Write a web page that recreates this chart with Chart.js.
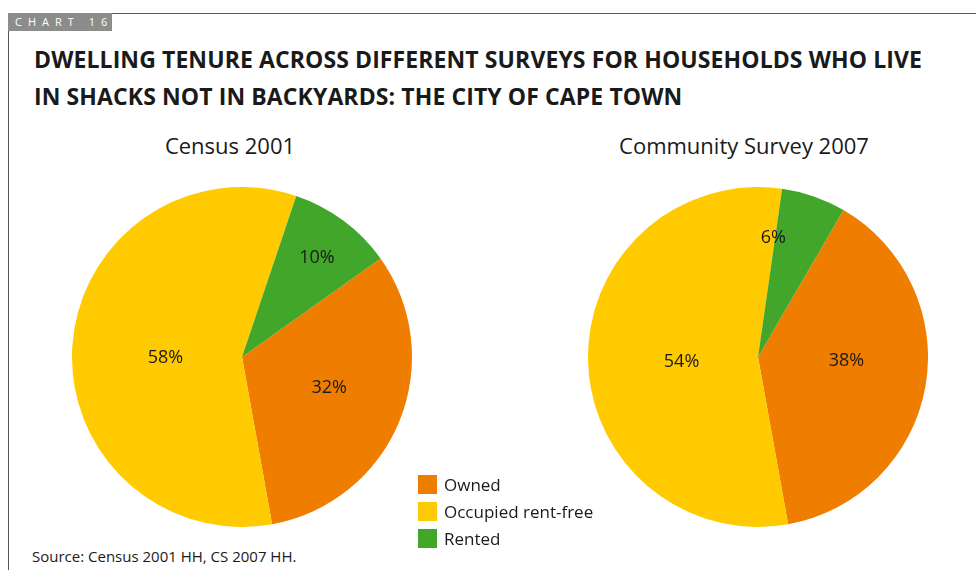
<!DOCTYPE html>
<html>
<head>
<meta charset="utf-8">
<script src="https://cdn.jsdelivr.net/npm/chart.js@4/dist/chart.umd.min.js"></script>
<style>
  body { margin: 0; background: #fff; font-family: "Open Sans", "Noto Sans", sans-serif; color: #1a1a1a; }
  #page { position: relative; width: 976px; height: 570px; overflow: hidden; }
  .frame-top { position: absolute; left: 8px; top: 13px; right: 0; height: 1px; background: #555; }
  .frame-left { position: absolute; left: 8px; top: 13px; bottom: 0; width: 1px; background: #555; }
  .tag { position: absolute; left: 8px; top: 13px; width: 104px; height: 18px; background: #8c8c8c; color: #fff;
         font-size: 11px; line-height: 18px; letter-spacing: 6px; padding-left: 7px; box-sizing: border-box; white-space: nowrap; }
  .heading { position: absolute; left: 34px; top: 41px; font-weight: bold; font-size: 23px; line-height: 37px; letter-spacing: 0.1px; white-space: nowrap; }
  .sub { position: absolute; top: 130px; font-size: 22px; width: 400px; text-align: center; }
  .box { position: absolute; width: 340px; height: 340px; top: 187px; }
  .legend { position: absolute; left: 418px; top: 475px; font-size: 17px; }
  .legend div { height: 27px; line-height: 19px; }
  .legend span { display: inline-block; width: 19px; height: 19px; vertical-align: top; margin-right: 7px; }
  .source { position: absolute; left: 32px; top: 546px; font-size: 15px; }
</style>
</head>
<body>
<div id="page">
  <div class="frame-top"></div>
  <div class="frame-left"></div>
  <div class="tag">CHART 16</div>
  <div class="heading">DWELLING TENURE ACROSS DIFFERENT SURVEYS FOR HOUSEHOLDS WHO LIVE<br>IN SHACKS NOT IN BACKYARDS: THE CITY OF CAPE TOWN</div>
  <div class="sub" style="left:30px">Census 2001</div>
  <div class="sub" style="left:544px">Community Survey 2007</div>
  <div class="box" style="left:72px"><canvas id="census"></canvas></div>
  <div class="box" style="left:588px"><canvas id="survey"></canvas></div>
  <div class="legend" id="legend"></div>
  <div class="source">Source: Census 2001 HH, CS 2007 HH.</div>
</div>
<script>
  const tenure = ['Owned', 'Occupied rent-free', 'Rented'];
  const colours = ['#EF7D00', '#FFCB00', '#41A62A'];
  const census2001 = [32, 58, 10];
  const survey2007 = [38, 54, 6];

  // percentage text inside each slice; dist is a fraction of the radius
  const sliceLabels = {
    id: 'sliceLabels',
    afterDatasetsDraw(chart, args, opts) {
      const ctx = chart.ctx;
      const meta = chart.getDatasetMeta(0);
      const values = chart.data.datasets[0].data;
      ctx.save();
      ctx.font = '18px "Open Sans", sans-serif';
      ctx.fillStyle = '#1a1a1a';
      ctx.textAlign = 'center';
      ctx.textBaseline = 'middle';
      meta.data.forEach((arc, i) => {
        const p = arc.getProps(['x', 'y', 'startAngle', 'endAngle', 'outerRadius'], true);
        const a = (p.startAngle + p.endAngle) / 2 + (opts.shift[i] || 0) * Math.PI / 180;
        const r = p.outerRadius * opts.dist[i];
        ctx.fillText(values[i] + '%', p.x + Math.cos(a) * r, p.y + 2 + Math.sin(a) * r);
      });
      ctx.restore();
    }
  };

  function makePie(id, values, rotation, dist, shift) {
    new Chart(document.getElementById(id), {
      type: 'pie',
      data: {
        labels: tenure,
        datasets: [{ data: values, backgroundColor: colours, borderWidth: 0 }]
      },
      options: {
        responsive: true,
        maintainAspectRatio: false,
        animation: false,
        rotation: rotation,
        plugins: {
          legend: { display: false },
          tooltip: { enabled: false },
          sliceLabels: { dist: dist, shift: shift }
        }
      },
      plugins: [sliceLabels]
    });
  }

  makePie('census', census2001, 54.6, [0.54, 0.45, 0.74], [-4, -3.5, 0]);
  makePie('survey', survey2007, 30.2, [0.52, 0.45, 0.72], [-8.5, -1, -12]);

  const legend = document.getElementById('legend');
  tenure.forEach((name, i) => {
    const row = document.createElement('div');
    row.innerHTML = '<span style="background:' + colours[i] + '"></span>' + name;
    legend.appendChild(row);
  });
</script>
</body>
</html>
